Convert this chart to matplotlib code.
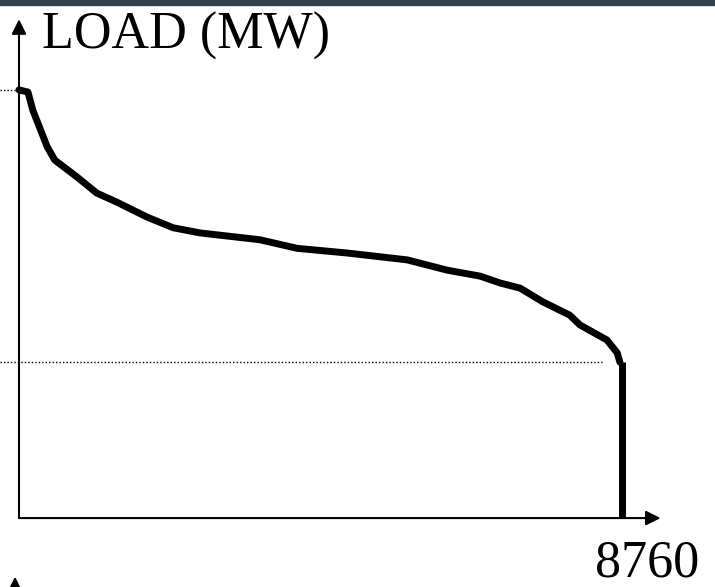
import matplotlib.pyplot as plt
from matplotlib.patches import Rectangle

# load duration curve
hours = [0, 130, 200, 410, 520, 840, 1130, 1420, 1860, 2240, 2630, 3500,
         4040, 4770, 5640, 6220, 6700, 6990, 7280, 7610, 8000, 8150, 8540,
         8690, 8730]
load = [1000, 995, 953, 867, 836, 797, 759, 738, 703, 678, 666, 650,
        630, 619, 603, 579, 565, 549, 537, 505, 474, 451, 416, 386, 364]
peak_load = 1000
base_load = 364
year_hours = 8760

fig = plt.figure(figsize=(7.15, 5.87), dpi=100)
ax = fig.add_axes([0, 0, 1, 1])
ax.set_xlim(-276, 10111)
ax.set_ylim(-161, 1210)
ax.axis('off')

# dark strip at the very top (slide background)
fig.patches.append(Rectangle((0, 0.991), 1, 0.009, transform=fig.transFigure,
                             color='#34404c', zorder=0))

# axes with arrows
arrow = dict(arrowstyle='-|>', color='black', lw=1.5, mutation_scale=22,
             shrinkA=0, shrinkB=0)
ax.annotate('', xy=(0, 1165), xytext=(0, 0), arrowprops=arrow)
ax.annotate('', xy=(9320, 0), xytext=(0, 0), arrowprops=arrow)
ax.annotate('', xy=(-58, -137), xytext=(-58, -200), arrowprops=arrow)

# dotted guide lines
ax.plot([-276, 0], [peak_load, peak_load], color='black', lw=1, ls=(0, (1, 1.5)))
ax.plot([-276, 8470], [base_load, base_load], color='black', lw=1, ls=(0, (1, 1.5)))

# curve and drop at end of year
ax.plot(hours, load, color='black', lw=5, solid_capstyle='round',
        solid_joinstyle='round')
ax.plot([year_hours, year_hours], [base_load, 0], color='black', lw=5,
        solid_capstyle='butt')

ax.text(330, 1096, 'LOAD (MW)', family='Liberation Serif', fontsize=37.5,
        va='baseline', ha='left')
ax.text(9130, -136, '8760', family='Liberation Serif', fontsize=37.5,
        va='baseline', ha='center')

fig.savefig('out.png', dpi=100)
